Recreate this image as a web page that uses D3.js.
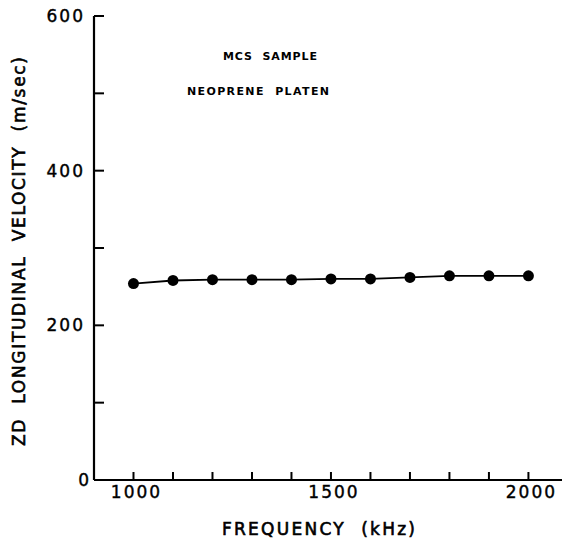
<!DOCTYPE html>
<html>
<head>
<meta charset="utf-8">
<script src="https://cdn.jsdelivr.net/npm/d3@7"></script>
<style>
  body { margin: 0; background: #fff; }
  text { font-family: "DejaVu Sans", sans-serif; fill: #000; }
</style>
</head>
<body>
<div id="chart"></div>
<script>
// data
var freq = [1000, 1100, 1200, 1300, 1400, 1500, 1600, 1700, 1800, 1900, 2000];
var velocity = [254, 258, 259, 259, 259, 260, 260, 262, 264, 264, 264];
var yTicks = [0, 200, 400, 600];
var yMinor = [100, 300, 500];
var xTicks = [1000, 1500, 2000];
var xMinor = d3.range(1000, 2001, 100);
var notes = ["MCS SAMPLE", "NEOPRENE PLATEN"];

var w = 562, h = 539;

var svg = d3.select("#chart").append("svg")
	.attr("width", w)
	.attr("height", h);

var x = d3.scaleLinear().domain([900, 2085]).range([94, 562]);
var y = d3.scaleLinear().domain([0, 600]).range([480, 16]);

// axes lines
svg.append("line").attr("x1", 94).attr("x2", 94).attr("y1", y(600)).attr("y2", y(0))
	.attr("stroke", "#000").attr("stroke-width", 2.2);
svg.append("line").attr("x1", 94).attr("x2", w).attr("y1", y(0)).attr("y2", y(0))
	.attr("stroke", "#000").attr("stroke-width", 2.2);

// y ticks (inward)
svg.selectAll(".ytick")
	.data(yTicks.concat(yMinor))
	.enter().append("line")
	.attr("x1", 94).attr("x2", 104)
	.attr("y1", function(d){ return y(d); })
	.attr("y2", function(d){ return y(d); })
	.attr("stroke", "#000").attr("stroke-width", 2);

svg.selectAll(".ylab")
	.data(yTicks)
	.enter().append("text")
	.attr("x", function(d){ return d == 0 ? 91 : 85; })
	.attr("y", function(d){ return y(d) + 6; })
	.attr("text-anchor", "end")
	.attr("font-size", "17px")
	.attr("letter-spacing", "2px")
	.attr("stroke", "#000").attr("stroke-width", 0.4)
	.text(function(d){ return d; });

// x ticks (inward)
svg.selectAll(".xtick")
	.data(xMinor)
	.enter().append("line")
	.attr("x1", function(d){ return x(d); })
	.attr("x2", function(d){ return x(d); })
	.attr("y1", y(0)).attr("y2", y(0) - 8)
	.attr("stroke", "#000").attr("stroke-width", 2);

svg.selectAll(".xlab")
	.data(xTicks)
	.enter().append("text")
	.attr("x", function(d){ return x(d) + 3; })
	.attr("y", 498)
	.attr("text-anchor", "middle")
	.attr("font-size", "17px")
	.attr("letter-spacing", "2px")
	.attr("stroke", "#000").attr("stroke-width", 0.4)
	.text(function(d){ return d; });

// titles
svg.append("text")
	.attr("x", 222).attr("y", 535)
	.attr("font-size", "17px")
	.attr("stroke", "#000").attr("stroke-width", 0.6)
	.attr("textLength", 193)
	.attr("lengthAdjust", "spacing")
	.attr("xml:space", "preserve")
	.text("FREQUENCY  (kHz)");

svg.append("text")
	.attr("transform", "translate(25,446) rotate(-90)")
	.attr("font-size", "17px")
	.attr("stroke", "#000").attr("stroke-width", 0.6)
	.attr("textLength", 389)
	.attr("lengthAdjust", "spacing")
	.attr("xml:space", "preserve")
	.text("ZD  LONGITUDINAL  VELOCITY  (m/sec)");

// annotations
var noteX = [223, 187], noteY = [60, 95], noteLen = [94, 142];
svg.selectAll(".note")
	.data(notes)
	.enter().append("text")
	.attr("x", function(d, i){ return noteX[i]; })
	.attr("y", function(d, i){ return noteY[i]; })
	.attr("font-size", "11px")
	.attr("font-weight", "bold")
	.attr("textLength", function(d, i){ return noteLen[i]; })
	.attr("lengthAdjust", "spacing")
	.attr("xml:space", "preserve")
	.text(function(d){ return d.replace(" ", "  "); });

// data line + points
var line = d3.line()
	.x(function(d, i){ return x(freq[i]); })
	.y(function(d){ return y(d); });

svg.append("path")
	.datum(velocity)
	.attr("d", line)
	.attr("fill", "none")
	.attr("stroke", "#000")
	.attr("stroke-width", 1.8);

svg.selectAll(".pt")
	.data(velocity)
	.enter().append("circle")
	.attr("cx", function(d, i){ return x(freq[i]); })
	.attr("cy", function(d){ return y(d); })
	.attr("r", 5.5)
	.attr("fill", "#000");
</script>
</body>
</html>
